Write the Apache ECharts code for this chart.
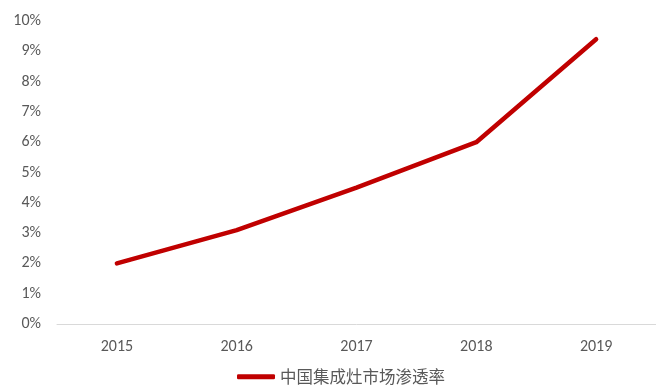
<!DOCTYPE html>
<html>
<head>
<meta charset="utf-8">
<script src="https://cdn.jsdelivr.net/npm/echarts@6/dist/echarts.min.js"></script>
<style>
html,body{margin:0;padding:0;background:#fff;}
#chart{width:656px;height:392px;}
</style>
</head>
<body>
<div id="chart"></div>
<script>
// Integrated stove market penetration in China, 2015-2019 (%)
const years = ['2015', '2016', '2017', '2018', '2019'];
const penetration = [2.0, 3.1, 4.5, 6.0, 9.4];
const seriesName = '中国集成灶市场渗透率';

const chart = echarts.init(document.getElementById('chart'));
chart.setOption({
  animation: false,
  textStyle: { fontFamily: 'Carlito, "Open Sans", "Noto Sans CJK SC", sans-serif' },
  grid: { left: 57, right: -3, top: 21, bottom: 68 },
  legend: {
    bottom: 2,
    left: 232,
    itemWidth: 38,
    itemHeight: 5,
    itemGap: 4,
    icon: 'roundRect',
    textStyle: { color: '#595959', fontSize: 16.5, fontFamily: '"Noto Sans CJK SC", sans-serif' },
    data: [seriesName]
  },
  xAxis: {
    type: 'category',
    data: years,
    axisLine: { lineStyle: { color: '#d9d9d9', width: 1 } },
    axisTick: { show: false },
    axisLabel: { color: '#595959', fontSize: 16, margin: 15 }
  },
  yAxis: {
    type: 'value',
    min: 0,
    max: 10,
    interval: 1,
    splitLine: { show: false },
    axisLine: { show: false },
    axisTick: { show: false },
    axisLabel: { color: '#595959', fontSize: 16, margin: 16, formatter: v => v + '%' }
  },
  series: [{
    name: seriesName,
    type: 'line',
    data: penetration,
    symbol: 'none',
    lineStyle: { color: '#C00000', width: 4.5, cap: 'round', join: 'round' },
    itemStyle: { color: '#C00000' }
  }]
});
</script>
</body>
</html>
